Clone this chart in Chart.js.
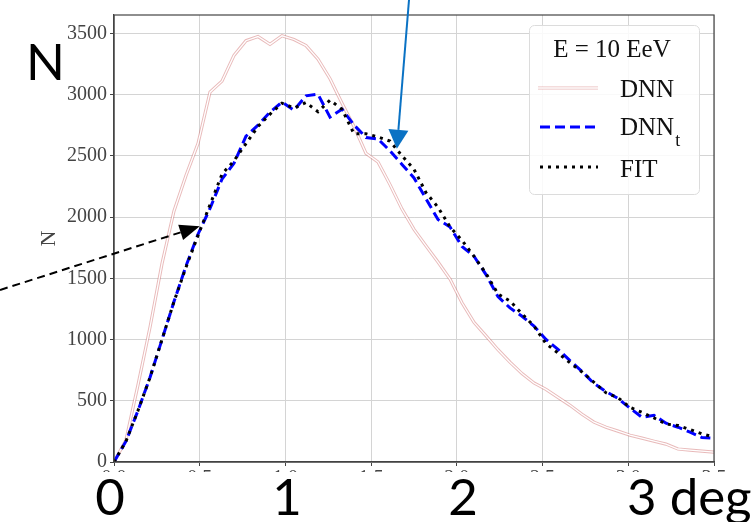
<!DOCTYPE html>
<html>
<head>
<meta charset="utf-8">
<script src="https://cdn.jsdelivr.net/npm/chart.js"></script>
<style>
  body { margin: 0; background: #fff; }
  #wrap { position: relative; width: 752px; height: 522px; }
</style>
</head>
<body>
<div id="wrap"><canvas id="chart" width="752" height="522"></canvas></div>
<script>
// angle bins (deg)
const angles = [0, 0.07, 0.14, 0.21, 0.28, 0.35, 0.42, 0.49, 0.56, 0.63,
  0.7, 0.77, 0.84, 0.91, 0.98, 1.05, 1.12, 1.19, 1.26, 1.33,
  1.4, 1.47, 1.54, 1.61, 1.68, 1.75, 1.82, 1.89, 1.96, 2.03,
  2.1, 2.17, 2.24, 2.31, 2.38, 2.45, 2.52, 2.59, 2.66, 2.73,
  2.8, 2.87, 2.94, 3.01, 3.08, 3.15, 3.22, 3.29, 3.36, 3.43, 3.5];

const dnn = [0, 180, 630, 1100, 1620, 2050, 2340, 2600, 3020, 3110,
  3320, 3440, 3474, 3410, 3480, 3450, 3400, 3290, 3130, 2930,
  2740, 2520, 2450, 2265, 2065, 1900, 1765, 1633, 1494, 1300,
  1140, 1030, 917, 815, 722, 645, 593, 528, 463, 390,
  325, 284, 252, 219, 195, 170, 146, 106, 97, 89, 81];

const dnnT = [0, 170, 420, 690, 1000, 1310, 1600, 1860, 2070, 2310,
  2440, 2660, 2750, 2857, 2938, 2873, 2990, 3003, 2816, 2881,
  2752, 2650, 2638, 2540, 2430, 2320, 2150, 1980, 1920, 1760,
  1680, 1530, 1350, 1258, 1190, 1110, 1000, 920, 828, 740,
  641, 575, 519, 440, 365, 381, 317, 284, 244, 200, 195];

const fit = [0, 170, 420, 690, 1000, 1310, 1590, 1850, 2100, 2350,
  2460, 2600, 2740, 2840, 2930, 2890, 2935, 2860, 2955, 2880,
  2680, 2680, 2655, 2620, 2500, 2390, 2200, 2080, 1920, 1810,
  1680, 1540, 1372, 1315, 1210, 1110, 966, 890, 810, 735,
  650, 565, 525, 446, 405, 360, 310, 298, 265, 230, 203];

const xTicks = [0, 0.5, 1, 1.5, 2, 2.5, 3, 3.5];
const yTicks = [0, 500, 1000, 1500, 2000, 2500, 3000, 3500];
const bigLabels = ['0', '1', '2', '3 deg'];

function pts(ys) {
  return angles.map((x, i) => ({ x: x, y: ys[i] }));
}

const serif = '"Liberation Serif", "DejaVu Serif", serif';
const pink = 'rgba(205,100,100,0.45)';

// frame, legend, arrows and the big overlay labels
const extras = {
  id: 'extras',
  afterDraw(chart) {
    const ctx = chart.ctx;
    const a = chart.chartArea;
    const xs = chart.scales.x, ys = chart.scales.y;
    ctx.save();

    // frame on all four sides
    ctx.strokeStyle = '#444';
    ctx.lineWidth = 1.2;
    ctx.strokeRect(a.left, a.top, a.right - a.left, a.bottom - a.top);

    // legend box
    ctx.beginPath();
    ctx.roundRect(529.5, 25.5, 170, 169, 5);
    ctx.fillStyle = 'rgba(255,255,255,0.85)';
    ctx.fill();
    ctx.strokeStyle = '#dcdcdc';
    ctx.lineWidth = 1;
    ctx.stroke();

    ctx.fillStyle = '#111';
    ctx.textBaseline = 'alphabetic';
    ctx.textAlign = 'center';
    ctx.font = '25px ' + serif;
    ctx.fillText('E = 10 EeV', 612, 57);

    ctx.textAlign = 'left';
    ctx.fillText('DNN', 620, 97);
    ctx.fillText('DNN', 620, 135);
    const w = ctx.measureText('DNN').width;
    ctx.font = '18px ' + serif;
    ctx.fillText('t', 620 + w + 1, 146);
    ctx.font = '25px ' + serif;
    ctx.fillText('FIT', 620, 177);

    // legend samples
    ctx.lineCap = 'butt';
    ctx.beginPath(); ctx.moveTo(538, 88); ctx.lineTo(598, 88);
    ctx.strokeStyle = pink; ctx.lineWidth = 3.2; ctx.stroke();
    ctx.beginPath(); ctx.moveTo(538, 88); ctx.lineTo(598, 88);
    ctx.strokeStyle = '#fff'; ctx.lineWidth = 1.3; ctx.stroke();

    ctx.setLineDash([10, 5]);
    ctx.beginPath(); ctx.moveTo(540, 127); ctx.lineTo(598, 127);
    ctx.strokeStyle = '#0000ff'; ctx.lineWidth = 3; ctx.stroke();

    ctx.setLineDash([3, 5]);
    ctx.beginPath(); ctx.moveTo(540, 167); ctx.lineTo(598, 167);
    ctx.strokeStyle = '#000'; ctx.lineWidth = 3; ctx.stroke();
    ctx.setLineDash([]);

    // arrows
    function arrow(x0, y0, x1, y1, color, dash, headLen, headHalf) {
      const dx = x1 - x0, dy = y1 - y0;
      const len = Math.hypot(dx, dy);
      const ux = dx / len, uy = dy / len;
      const bx = x1 - ux * headLen, by = y1 - uy * headLen;
      ctx.strokeStyle = color;
      ctx.fillStyle = color;
      ctx.lineWidth = 2;
      ctx.setLineDash(dash);
      ctx.beginPath(); ctx.moveTo(x0, y0); ctx.lineTo(bx, by); ctx.stroke();
      ctx.setLineDash([]);
      ctx.beginPath();
      ctx.moveTo(x1, y1);
      ctx.lineTo(bx - uy * headHalf, by + ux * headHalf);
      ctx.lineTo(bx + uy * headHalf, by - ux * headHalf);
      ctx.closePath();
      ctx.fill();
    }
    arrow(0, 290, xs.getPixelForValue(0.5), ys.getPixelForValue(1925), '#000', [8, 5], 20, 8);
    arrow(409, 0, xs.getPixelForValue(1.65), ys.getPixelForValue(2557), '#0a72c4', [], 19, 10);

    // white strip with big labels over the x tick labels
    ctx.fillStyle = '#fff';
    ctx.fillRect(0, 472, 752, 50);
    ctx.fillStyle = '#000';
    ctx.font = '51px Lato';
    ctx.textAlign = 'center';
    ctx.fillText(bigLabels[0], 110, 515);
    ctx.fillText(bigLabels[1], 287, 515);
    ctx.fillText(bigLabels[2], 463, 515);
    ctx.textAlign = 'left';
    ctx.fillText(bigLabels[3], 627, 515);
    ctx.fillText('N', 26, 80);

    ctx.restore();
  }
};

new Chart(document.getElementById('chart'), {
  type: 'line',
  data: {
    datasets: [
      { label: 'FIT', data: pts(fit), borderColor: '#000', borderWidth: 3,
        borderDash: [3, 5], pointRadius: 0, tension: 0, order: 0 },
      { label: 'DNN_t', data: pts(dnnT), borderColor: '#0000ff', borderWidth: 3,
        borderDash: [10, 5], pointRadius: 0, tension: 0, order: 1 },
      { label: 'DNN', data: pts(dnn), borderColor: '#fff', borderWidth: 1.3,
        pointRadius: 0, tension: 0, order: 2 },
      { label: 'DNN outline', data: pts(dnn), borderColor: pink, borderWidth: 3.2,
        pointRadius: 0, tension: 0, order: 3 }
    ]
  },
  options: {
    responsive: false,
    animation: false,
    layout: { padding: { left: 0, right: 38, top: 12, bottom: 0 } },
    plugins: { legend: { display: false }, tooltip: { enabled: false } },
    scales: {
      x: {
        type: 'linear', min: 0, max: 3.5,
        afterBuildTicks: s => { s.ticks = xTicks.map(v => ({ value: v })); },
        ticks: { callback: v => v.toFixed(1), font: { family: serif, size: 20 },
                 color: '#444', padding: 1, maxRotation: 0 },
        grid: { color: '#d4d4d4', tickLength: 4, tickColor: '#444' },
        border: { color: '#444', width: 1.2 },
        afterFit: s => { s.height = 60; }
      },
      y: {
        min: 0, max: 3650,
        afterBuildTicks: s => { s.ticks = yTicks.map(v => ({ value: v })); },
        ticks: { callback: v => String(v), font: { family: serif, size: 20 },
                 color: '#444', padding: 3 },
        grid: { color: '#d4d4d4', tickLength: 4, tickColor: '#444' },
        border: { color: '#444', width: 1.2 },
        title: { display: true, text: 'N', color: '#444',
                 font: { family: serif, size: 22 }, padding: { top: 36, bottom: 0 } },
        afterFit: s => { s.width = 114; }
      }
    }
  },
  plugins: [extras]
});
</script>
</body>
</html>
